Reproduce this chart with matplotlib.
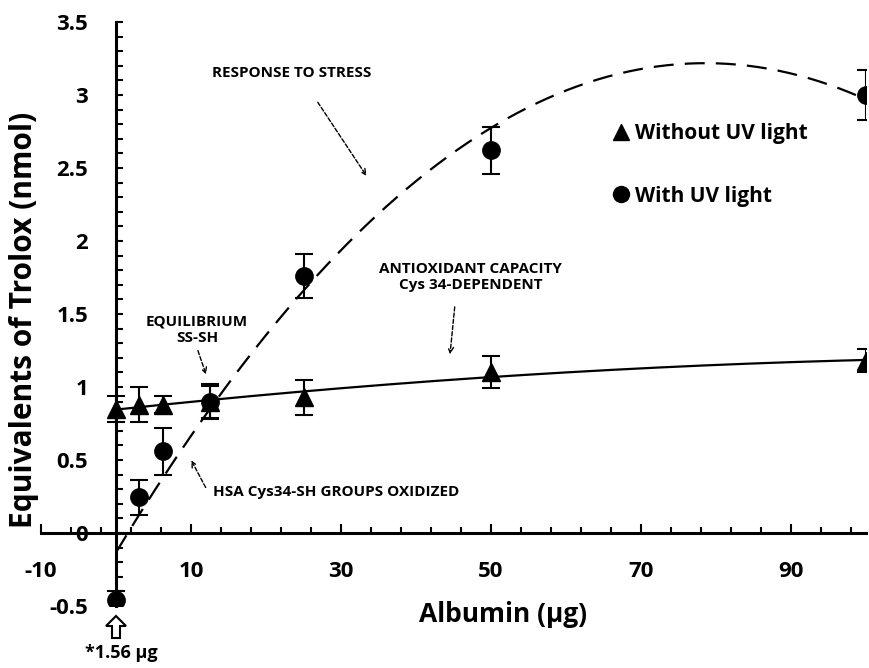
import numpy as np
import matplotlib
matplotlib.use('Agg')
import matplotlib.pyplot as plt
from matplotlib.lines import Line2D
from matplotlib.patches import FancyArrow
from matplotlib.transforms import IdentityTransform

plt.rcParams['font.family'] = ['Open Sans', 'DejaVu Sans']
plt.rcParams['font.weight'] = 'bold'
plt.rcParams['axes.unicode_minus'] = False

# albumin amounts (first point is the 1.56 ug sample, drawn on the axis)
albumin = [0, 3.125, 6.25, 12.5, 25, 50, 100]
no_uv = [0.85, 0.88, 0.88, 0.90, 0.93, 1.10, 1.18]
no_uv_err = [0.09, 0.12, 0.06, 0.11, 0.12, 0.11, 0.08]
uv = [-0.46, 0.245, 0.56, 0.90, 1.76, 2.62, 3.00]
uv_err = [0.06, 0.12, 0.16, 0.12, 0.15, 0.16, 0.17]

xticks = [-10, 10, 30, 50, 70, 90]
yticks = [-0.5, 0, 0.5, 1, 1.5, 2, 2.5, 3, 3.5]
ytick_labels = ['-0.5', '0', '0.5', '1', '1.5', '2', '2.5', '3', '3.5']

fig = plt.figure(figsize=(8.69, 6.68), dpi=100)
ax = fig.add_axes([41/869, 62/668, 825/869, 584/668])

# polynomial trend lines (order 2) as in the original spreadsheet
xs = np.linspace(0, 100, 300)
p1 = np.polyfit(albumin, no_uv, 2)
p2 = np.polyfit(albumin, uv, 2)
ax.plot(xs, np.polyval(p1, xs), color='k', lw=1.6, zorder=2)
ax.plot(xs, np.polyval(p2, xs), color='k', lw=1.6, dashes=[9, 5], zorder=2)

ax.errorbar(albumin, no_uv, yerr=no_uv_err, fmt='^', ms=13, color='k',
            ecolor='k', elinewidth=1.5, capsize=6.5, capthick=1.5, zorder=3)
ax.errorbar(albumin, uv, yerr=uv_err, fmt='o', ms=12.5, color='k',
            ecolor='k', elinewidth=1.5, capsize=6.5, capthick=1.5, zorder=3)

ax.set_xlim(-10, 100)
ax.set_ylim(-0.5, 3.5)
for s in ['top', 'right']:
    ax.spines[s].set_visible(False)
ax.spines['left'].set_position(('data', 0))
ax.spines['bottom'].set_position(('data', 0))
for s in ['left', 'bottom']:
    ax.spines[s].set_linewidth(2.2)

ax.set_xticks(xticks)
ax.set_xticks(np.arange(-10, 100, 4), minor=True)
ax.set_yticks(yticks)
ax.set_yticklabels(ytick_labels)
ax.set_yticks(np.arange(-0.5, 3.51, 0.1), minor=True)
ax.tick_params(axis='x', which='major', direction='in', length=6.5, width=1.5, pad=20, labelsize=16)
ax.tick_params(axis='x', which='minor', direction='in', length=4, width=1.5)
ax.tick_params(axis='y', which='both', direction='in', length=5, width=1.5, pad=20, labelsize=16)

ax.set_xlabel('Albumin (µg)', fontsize=19, fontweight='bold')
ax.xaxis.set_label_coords(0.56, 0.009)
ax.set_ylabel('Equivalents of Trolox (nmol)', fontsize=21.5, fontweight='bold')
ax.yaxis.set_label_coords(-0.003, 0.49)

# legend
handles = [Line2D([], [], marker='^', ls='none', color='k', ms=11),
           Line2D([], [], marker='o', ls='none', color='k', ms=11.5)]
ax.legend(handles, ['Without UV light', 'With UV light'], loc='upper left',
          bbox_to_anchor=(0.68, 0.845), frameon=False, fontsize=15,
          handlelength=0.8, handletextpad=0.3, labelspacing=2.0, borderpad=0)

# annotations
arrow = dict(arrowstyle='->', color='k', lw=1.0, ls=(0, (3, 1.5)))
ax.text(12.8, 3.15, 'RESPONSE TO STRESS', fontsize=11, ha='left', va='center')
ax.annotate('', xy=(33.6, 2.43), xytext=(26.7, 2.966), arrowprops=arrow)
ax.text(47.3, 1.753, 'ANTIOXIDANT CAPACITY\nCys 34-DEPENDENT', fontsize=11,
        ha='center', va='center', linespacing=1.25)
ax.annotate('', xy=(44.5, 1.205), xytext=(45.2, 1.568), arrowprops=arrow)
ax.text(10.8, 1.39, 'EQUILIBRIUM\nSS-SH', fontsize=11, ha='center', va='center',
        linespacing=1.25)
ax.annotate('', xy=(12.13, 1.068), xytext=(10.8, 1.267), arrowprops=arrow)
ax.text(12.93, 0.281, 'HSA Cys34-SH GROUPS OXIDIZED', fontsize=11, ha='left', va='center')
ax.annotate('', xy=(9.87, 0.514), xytext=(12.13, 0.295), arrowprops=arrow)

# hollow arrow marking the 1.56 ug sample
fig.add_artist(FancyArrow(116, 30, 0, 22, width=8, head_width=20, head_length=10,
                          length_includes_head=True, fc='white', ec='k', lw=1.5,
                          transform=IdentityTransform()))
fig.text(121/869, 1 - 653/668, '*1.56 µg', fontsize=13, fontweight='bold',
         ha='center', va='center')

fig.savefig('out.png', dpi=100)
